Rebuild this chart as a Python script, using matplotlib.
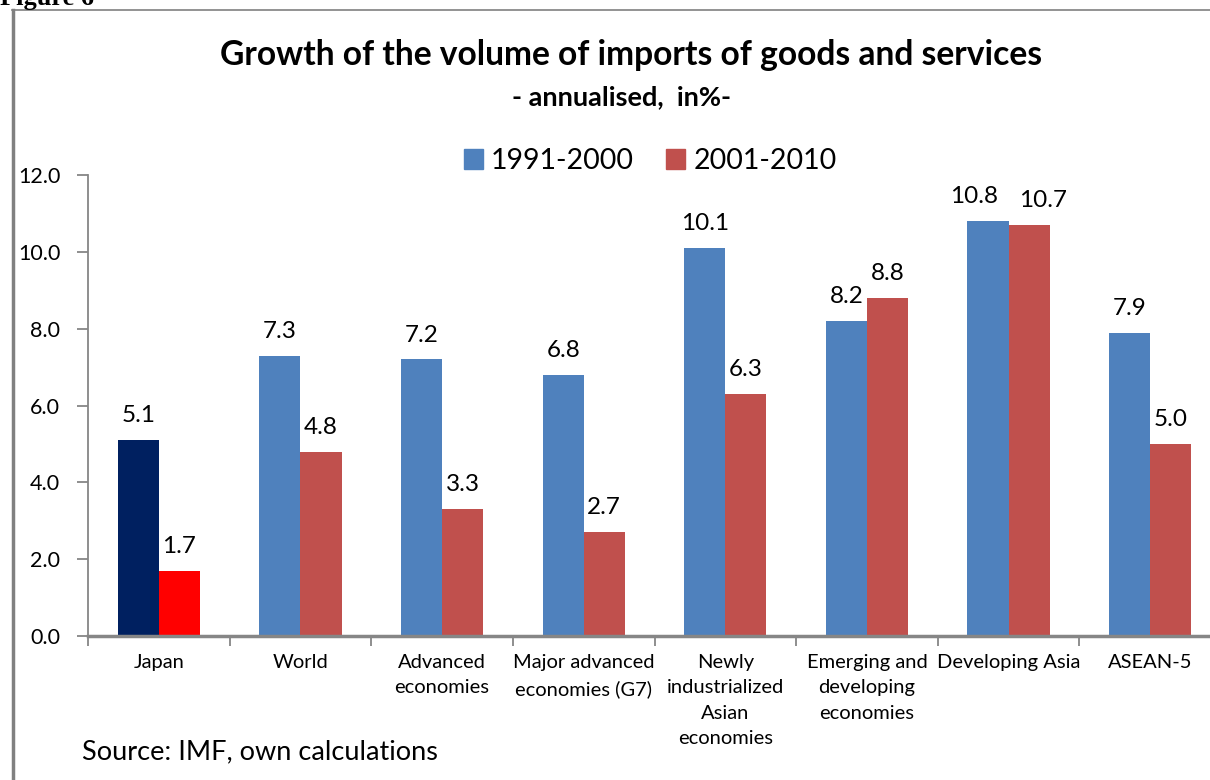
import numpy as np
import matplotlib.pyplot as plt
from matplotlib.lines import Line2D

plt.rcParams['font.family'] = ['Lato', 'DejaVu Sans']

categories = ['Japan', 'World', 'Advanced\neconomies', 'Major advanced\neconomies (G7)',
              'Newly\nindustrialized\nAsian\neconomies', 'Emerging and\ndeveloping\neconomies',
              'Developing Asia', 'ASEAN-5']
v_1991_2000 = [5.1, 7.3, 7.2, 6.8, 10.1, 8.2, 10.8, 7.9]
v_2001_2010 = [1.7, 4.8, 3.3, 2.7, 6.3, 8.8, 10.7, 5.0]
yticks = [0.0, 2.0, 4.0, 6.0, 8.0, 10.0, 12.0]

blue = '#4F81BD'
red = '#C0504D'
blue_jp = '#002060'
red_jp = '#FF0000'

fig = plt.figure(figsize=(12.1, 7.8), dpi=100)
W, H = 1210, 780
ax = fig.add_axes([88 / W, 144 / H, (1221 - 88) / W, 461 / H])

x = np.arange(len(categories))
bw = 0.29
# Japan is highlighted with darker/brighter colours
c1 = [blue_jp] + [blue] * (len(x) - 1)
c2 = [red_jp] + [red] * (len(x) - 1)
b1 = ax.bar(x - bw / 2, v_1991_2000, bw, color=c1, zorder=2)
b2 = ax.bar(x + bw / 2, v_2001_2010, bw, color=c2, zorder=2)

# labels pushed apart where they would collide (Developing Asia)
for bars, vals, side in [(b1, v_1991_2000, -1), (b2, v_2001_2010, 1)]:
    for i, (b, v) in enumerate(zip(bars, vals)):
        dx = side * 10 if i == 6 else 0
        ax.annotate(f'{v:.1f}', (b.get_x() + b.get_width() / 2, v),
                    xytext=(dx, 10), textcoords='offset points',
                    ha='center', va='bottom', fontsize=17.5)

ax.set_xlim(-0.5, len(x) - 0.5)
ax.set_ylim(0, 12)
ax.set_yticks(yticks)
ax.set_yticklabels([f'{t:.1f}' for t in yticks], fontsize=15.5)
ax.set_xticks(x)
ax.set_xticklabels(categories, fontsize=14.5, linespacing=1.6, va='top')
ax.set_xticks(np.arange(len(x) + 1) - 0.5, minor=True)
ax.tick_params(axis='x', which='major', length=0, pad=13)
ax.tick_params(axis='x', which='minor', length=7, color='#868686', width=1.3)
ax.tick_params(axis='y', length=8, color='#868686', width=1.3, pad=12)
for s in ['top', 'right']:
    ax.spines[s].set_visible(False)
ax.spines['left'].set_color('#868686')
ax.spines['bottom'].set_color('#868686')
ax.spines['left'].set_linewidth(1.3)
ax.spines['bottom'].set_linewidth(2.5)
ax.spines['bottom'].set_zorder(3)

h1 = plt.Rectangle((0, 0), 1, 1, color=blue)
h2 = plt.Rectangle((0, 0), 1, 1, color=red)
fig.legend([h1, h2], ['1991-2000', '2001-2010'], loc='center', bbox_to_anchor=(650 / W, 1 - 161 / H),
           ncol=2, frameon=False, fontsize=20.5, handlelength=0.67, handleheight=0.67,
           handletextpad=0.3, columnspacing=1.1)

fig.text(631 / W, 1 - 55 / H, 'Growth of the volume of imports of goods and services',
         ha='center', va='center', fontsize=24.2, fontweight='bold')
fig.text(622 / W, 1 - 97 / H, '- annualised,  in%-', ha='center', va='center',
         fontsize=19.5, fontweight='bold')
fig.text(82 / W, 1 - 752 / H, 'Source: IMF, own calculations', ha='left', va='center', fontsize=19.5)
fig.text(0 / W, 1 - 5 / H, 'Figure 6', ha='left', va='baseline', fontsize=19,
         fontweight='bold', family=['Liberation Serif'])

fig.add_artist(Line2D([12.5 / W, 12.5 / W], [0, 1 - 10 / H], transform=fig.transFigure,
                      color='#808080', lw=2.5))
fig.add_artist(Line2D([12 / W, 1], [1 - 10 / H, 1 - 10 / H], transform=fig.transFigure,
                      color='#808080', lw=1.2))

fig.savefig('out.png', dpi=100)
